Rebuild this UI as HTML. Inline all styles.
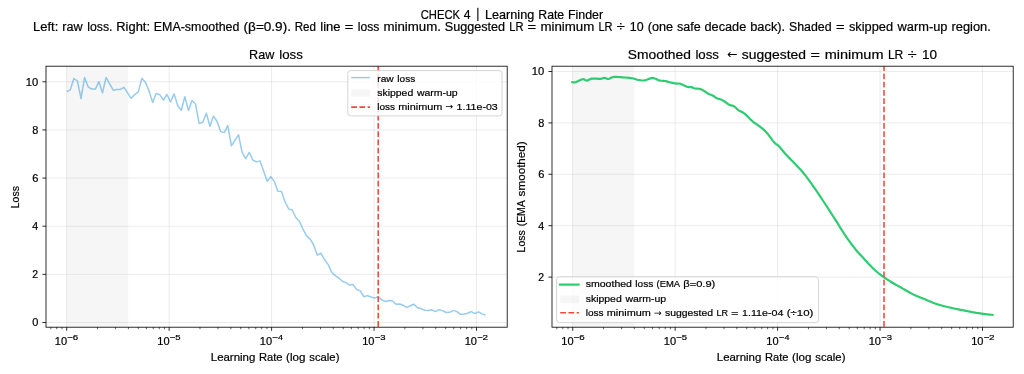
<!DOCTYPE html>
<html><head><meta charset="utf-8"><style>
html,body{margin:0;padding:0;background:#fff;}
svg{display:block;will-change:transform;}
text{font-family:"Liberation Sans",sans-serif;stroke:#000;stroke-width:0.2px;}
</style></head><body>
<svg width="1024" height="374" viewBox="0 0 1024 374">
<rect width="1024" height="374" fill="#fff"/>
<clipPath id="clip0"><rect x="46.0" y="66.2" width="461.20" height="261.00"/></clipPath>
<rect x="66.70" y="66.2" width="61.50" height="261.00" fill="#808080" fill-opacity="0.07"/>
<path d="M66.70 66.2V327.2 M169.15 66.2V327.2 M271.60 66.2V327.2 M374.05 66.2V327.2 M476.50 66.2V327.2 M46.0 322.50H507.2 M46.0 274.36H507.2 M46.0 226.22H507.2 M46.0 178.08H507.2 M46.0 129.94H507.2 M46.0 81.80H507.2" stroke="#b0b0b0" stroke-opacity="0.3" stroke-width="0.82" fill="none"/>
<polyline clip-path="url(#clip0)" points="66.70,91.70 70.28,89.90 73.86,78.50 77.44,81.00 81.02,98.50 84.60,77.40 88.18,87.00 91.76,89.10 95.34,89.10 98.92,81.70 102.50,92.90 106.08,77.40 109.66,84.00 113.24,90.20 116.82,89.40 120.40,89.40 123.98,87.30 127.56,92.80 131.14,98.30 134.72,94.50 138.30,91.90 141.88,78.20 145.46,82.40 149.04,91.00 152.62,102.40 156.20,93.50 159.78,94.70 163.36,100.10 166.94,94.50 170.52,102.00 174.10,93.90 177.68,105.50 181.26,110.20 184.84,96.80 188.42,110.40 192.00,100.60 195.58,104.30 199.16,123.60 202.74,122.20 206.32,113.20 209.90,126.20 213.48,116.10 217.06,121.50 220.64,131.60 224.22,132.60 227.80,125.60 231.38,145.80 234.96,140.10 238.54,134.80 242.12,152.40 245.70,158.70 249.28,152.30 252.86,160.10 256.44,161.90 260.02,160.90 263.60,171.00 267.18,181.30 270.76,176.60 274.34,181.60 277.92,191.20 281.50,191.50 285.08,202.00 288.66,208.90 292.24,210.00 295.82,217.50 299.40,221.20 302.98,229.20 306.56,235.90 310.14,239.10 313.72,245.00 317.30,255.20 320.88,253.20 324.46,259.50 328.04,264.40 331.62,271.90 335.20,275.70 338.78,278.00 342.36,281.20 345.94,282.60 349.52,285.10 353.10,284.60 356.68,289.60 360.26,290.80 363.84,296.70 367.42,295.60 371.00,297.00 374.58,298.10 378.16,296.70 381.74,299.90 385.32,301.50 388.90,300.50 392.48,301.00 396.06,304.20 399.64,304.00 403.22,305.30 406.80,307.40 410.38,305.80 413.96,304.20 417.54,307.70 421.12,308.60 424.70,310.20 428.28,310.60 431.86,309.80 435.44,311.60 439.02,309.60 442.60,310.60 446.18,312.50 449.76,312.30 453.34,310.40 456.92,311.60 460.50,314.30 464.08,313.90 467.66,313.30 471.24,311.60 474.82,313.60 478.40,311.90 481.98,313.90 485.56,315.10" fill="none" stroke="#3498db" stroke-opacity="0.5" stroke-width="1.5" stroke-linejoin="round"/>
<path d="M378.2 327.2V66.2" stroke="#e74c3c" stroke-width="1.55" stroke-dasharray="5.76 2.49" stroke-dashoffset="-0.5" fill="none"/>
<rect x="46.0" y="66.2" width="461.20" height="261.00" fill="none" stroke="#000" stroke-width="0.82"/>
<path d="M66.70 327.2v3.6 M169.15 327.2v3.6 M271.60 327.2v3.6 M374.05 327.2v3.6 M476.50 327.2v3.6 M46.0 322.50h-3.6 M46.0 274.36h-3.6 M46.0 226.22h-3.6 M46.0 178.08h-3.6 M46.0 129.94h-3.6 M46.0 81.80h-3.6" stroke="#000" stroke-width="0.82" fill="none"/>
<path d="M50.83 327.2v2.05 M56.77 327.2v2.05 M62.01 327.2v2.05 M97.54 327.2v2.05 M115.58 327.2v2.05 M128.38 327.2v2.05 M138.31 327.2v2.05 M146.42 327.2v2.05 M153.28 327.2v2.05 M159.22 327.2v2.05 M164.46 327.2v2.05 M199.99 327.2v2.05 M218.03 327.2v2.05 M230.83 327.2v2.05 M240.76 327.2v2.05 M248.87 327.2v2.05 M255.73 327.2v2.05 M261.67 327.2v2.05 M266.91 327.2v2.05 M302.44 327.2v2.05 M320.48 327.2v2.05 M333.28 327.2v2.05 M343.21 327.2v2.05 M351.32 327.2v2.05 M358.18 327.2v2.05 M364.12 327.2v2.05 M369.36 327.2v2.05 M404.89 327.2v2.05 M422.93 327.2v2.05 M435.73 327.2v2.05 M445.66 327.2v2.05 M453.77 327.2v2.05 M460.63 327.2v2.05 M466.57 327.2v2.05 M471.81 327.2v2.05" stroke="#000" stroke-width="0.62" fill="none"/>
<text x="32.27" y="326.40" font-size="10.71" textLength="6.11" lengthAdjust="spacingAndGlyphs">0</text>
<text x="32.17" y="278.26" font-size="10.71" textLength="5.80" lengthAdjust="spacingAndGlyphs">2</text>
<text x="32.20" y="230.12" font-size="10.71" textLength="5.93" lengthAdjust="spacingAndGlyphs">4</text>
<text x="32.26" y="181.98" font-size="10.71" textLength="6.18" lengthAdjust="spacingAndGlyphs">6</text>
<text x="32.22" y="133.84" font-size="10.71" textLength="6.07" lengthAdjust="spacingAndGlyphs">8</text>
<text x="25.72" y="85.70" font-size="10.71" textLength="12.41" lengthAdjust="spacingAndGlyphs">10</text>
<text x="54.86" y="344.70" font-size="10.71" textLength="12.27" lengthAdjust="spacingAndGlyphs">10</text>
<text x="67.62" y="340.30" font-size="8.03" textLength="5.65" lengthAdjust="spacingAndGlyphs">−</text>
<text x="72.80" y="340.30" font-size="8.03" textLength="5.42" lengthAdjust="spacingAndGlyphs">6</text>
<text x="157.31" y="344.70" font-size="10.71" textLength="12.27" lengthAdjust="spacingAndGlyphs">10</text>
<text x="170.07" y="340.30" font-size="8.03" textLength="5.65" lengthAdjust="spacingAndGlyphs">−</text>
<text x="175.37" y="340.30" font-size="8.03" textLength="5.28" lengthAdjust="spacingAndGlyphs">5</text>
<text x="259.76" y="344.70" font-size="10.71" textLength="12.27" lengthAdjust="spacingAndGlyphs">10</text>
<text x="272.52" y="340.30" font-size="8.03" textLength="5.65" lengthAdjust="spacingAndGlyphs">−</text>
<text x="278.00" y="340.30" font-size="8.03" textLength="4.97" lengthAdjust="spacingAndGlyphs">4</text>
<text x="362.21" y="344.70" font-size="10.71" textLength="12.27" lengthAdjust="spacingAndGlyphs">10</text>
<text x="374.97" y="340.30" font-size="8.03" textLength="5.65" lengthAdjust="spacingAndGlyphs">−</text>
<text x="380.29" y="340.30" font-size="8.03" textLength="5.28" lengthAdjust="spacingAndGlyphs">3</text>
<text x="464.66" y="344.70" font-size="10.71" textLength="12.27" lengthAdjust="spacingAndGlyphs">10</text>
<text x="477.42" y="340.30" font-size="8.03" textLength="5.65" lengthAdjust="spacingAndGlyphs">−</text>
<text x="482.60" y="340.30" font-size="8.03" textLength="5.49" lengthAdjust="spacingAndGlyphs">2</text>
<clipPath id="clip1"><rect x="552.0" y="66.2" width="461.20" height="261.00"/></clipPath>
<rect x="572.70" y="66.2" width="61.50" height="261.00" fill="#808080" fill-opacity="0.07"/>
<path d="M572.70 66.2V327.2 M675.15 66.2V327.2 M777.60 66.2V327.2 M880.05 66.2V327.2 M982.50 66.2V327.2 M552.0 277.10H1013.2 M552.0 225.70H1013.2 M552.0 174.30H1013.2 M552.0 122.90H1013.2 M552.0 71.50H1013.2" stroke="#b0b0b0" stroke-opacity="0.3" stroke-width="0.82" fill="none"/>
<polyline clip-path="url(#clip1)" points="572.40,82.20 572.81,82.23 573.37,82.29 574.05,82.33 574.77,82.32 575.50,82.20 576.25,81.95 577.05,81.58 577.88,81.16 578.70,80.75 579.50,80.40 580.26,80.08 581.00,79.75 581.73,79.46 582.46,79.26 583.20,79.20 583.95,79.36 584.70,79.73 585.46,80.15 586.23,80.48 587.00,80.60 587.79,80.42 588.60,80.03 589.41,79.56 590.22,79.11 591.00,78.80 591.72,78.65 592.40,78.59 593.08,78.57 593.82,78.59 594.70,78.60 595.77,78.63 596.99,78.70 598.27,78.78 599.51,78.82 600.60,78.80 601.52,78.66 602.35,78.42 603.11,78.17 603.84,77.97 604.60,77.90 605.37,78.04 606.12,78.34 606.88,78.67 607.63,78.93 608.40,79.00 609.16,78.80 609.91,78.41 610.68,77.94 611.49,77.50 612.40,77.20 613.33,77.04 614.26,76.95 615.29,76.92 616.50,76.94 618.00,77.00 619.98,77.11 622.37,77.30 624.89,77.51 627.23,77.72 629.10,77.90 630.40,78.03 631.31,78.13 632.01,78.22 632.65,78.34 633.40,78.50 634.22,78.73 635.01,79.00 635.81,79.30 636.69,79.57 637.70,79.80 638.86,80.01 640.13,80.23 641.48,80.41 642.89,80.48 644.30,80.40 645.80,80.06 647.42,79.50 649.03,78.87 650.53,78.32 651.80,78.00 652.78,77.94 653.55,78.05 654.20,78.27 654.81,78.54 655.50,78.80 656.21,79.08 656.89,79.42 657.59,79.78 658.37,80.12 659.30,80.40 660.45,80.61 661.77,80.76 663.17,80.90 664.51,81.03 665.70,81.20 666.66,81.40 667.47,81.61 668.23,81.83 669.04,82.06 670.00,82.30 671.19,82.57 672.54,82.86 673.93,83.16 675.26,83.41 676.40,83.60 677.26,83.65 677.92,83.58 678.51,83.50 679.19,83.51 680.10,83.70 681.33,84.17 682.80,84.86 684.34,85.62 685.83,86.31 687.10,86.80 688.13,87.02 689.00,87.07 689.78,87.04 690.53,87.01 691.30,87.10 692.05,87.32 692.75,87.61 693.45,87.93 694.21,88.24 695.10,88.50 696.12,88.64 697.24,88.69 698.43,88.75 699.69,88.92 701.00,89.30 702.43,89.99 704.00,90.93 705.59,91.95 707.09,92.93 708.40,93.70 709.47,94.22 710.37,94.57 711.17,94.85 711.93,95.14 712.70,95.50 713.44,95.96 714.09,96.45 714.75,96.97 715.50,97.50 716.40,98.00 717.51,98.46 718.77,98.88 720.11,99.31 721.48,99.80 722.80,100.40 724.11,101.18 725.44,102.11 726.76,103.08 728.02,103.98 729.20,104.70 730.26,105.15 731.24,105.41 732.16,105.61 733.07,105.86 734.00,106.30 734.95,106.97 735.88,107.80 736.82,108.70 737.78,109.60 738.80,110.40 739.85,111.03 740.90,111.53 742.01,112.04 743.20,112.69 744.50,113.60 745.99,114.91 747.65,116.53 749.36,118.27 751.02,119.92 752.50,121.30 753.74,122.29 754.80,123.04 755.80,123.68 756.86,124.39 758.10,125.30 759.55,126.41 761.13,127.61 762.78,128.93 764.46,130.39 766.10,132.00 767.75,133.93 769.45,136.17 771.13,138.47 772.70,140.59 774.10,142.30 775.23,143.42 776.14,144.10 776.97,144.62 777.84,145.23 778.90,146.20 780.14,147.58 781.48,149.20 782.91,150.97 784.42,152.80 786.00,154.60 787.66,156.35 789.41,158.12 791.22,159.92 793.09,161.81 795.00,163.80 796.96,165.90 799.00,168.08 801.07,170.35 803.15,172.72 805.20,175.20 807.22,177.81 809.24,180.55 811.26,183.38 813.28,186.28 815.30,189.20 817.31,192.14 819.32,195.11 821.33,198.14 823.38,201.27 825.50,204.50 827.74,207.95 830.09,211.58 832.46,215.27 834.76,218.86 836.90,222.20 838.82,225.24 840.58,228.08 842.27,230.79 843.98,233.47 845.80,236.20 847.82,239.09 849.99,242.08 852.16,245.01 854.21,247.70 856.00,250.00 857.45,251.76 858.64,253.10 859.72,254.22 860.79,255.32 862.00,256.60 863.37,258.10 864.82,259.69 866.30,261.31 867.77,262.90 869.20,264.40 870.55,265.80 871.86,267.15 873.16,268.45 874.50,269.73 875.90,271.00 877.38,272.26 878.91,273.51 880.48,274.73 882.08,275.93 883.70,277.10 885.34,278.23 887.02,279.34 888.71,280.42 890.41,281.47 892.10,282.50 893.76,283.49 895.41,284.43 897.06,285.37 898.75,286.31 900.50,287.30 902.40,288.39 904.43,289.55 906.46,290.71 908.36,291.79 910.00,292.70 911.23,293.38 912.16,293.88 912.97,294.31 913.88,294.75 915.10,295.30 916.67,295.97 918.45,296.70 920.38,297.48 922.38,298.28 924.40,299.10 926.47,299.97 928.64,300.90 930.85,301.83 933.02,302.72 935.10,303.50 937.04,304.15 938.89,304.71 940.71,305.22 942.56,305.70 944.50,306.20 946.56,306.72 948.69,307.23 950.86,307.74 953.04,308.23 955.20,308.70 957.36,309.15 959.54,309.58 961.71,309.99 963.84,310.40 965.90,310.80 967.89,311.21 969.82,311.61 971.70,312.01 973.53,312.37 975.30,312.70 976.97,312.97 978.54,313.20 980.07,313.40 981.64,313.59 983.30,313.80 985.23,314.04 987.37,314.29 989.49,314.54 991.31,314.75 992.60,314.90" fill="none" stroke="#2ecc71" stroke-width="2.2" stroke-linejoin="round" stroke-linecap="square"/>
<path d="M884.0 327.2V66.2" stroke="#e74c3c" stroke-width="1.55" stroke-dasharray="5.76 2.49" stroke-dashoffset="-0.5" fill="none"/>
<rect x="552.0" y="66.2" width="461.20" height="261.00" fill="none" stroke="#000" stroke-width="0.82"/>
<path d="M572.70 327.2v3.6 M675.15 327.2v3.6 M777.60 327.2v3.6 M880.05 327.2v3.6 M982.50 327.2v3.6 M552.0 277.10h-3.6 M552.0 225.70h-3.6 M552.0 174.30h-3.6 M552.0 122.90h-3.6 M552.0 71.50h-3.6" stroke="#000" stroke-width="0.82" fill="none"/>
<path d="M556.83 327.2v2.05 M562.77 327.2v2.05 M568.01 327.2v2.05 M603.54 327.2v2.05 M621.58 327.2v2.05 M634.38 327.2v2.05 M644.31 327.2v2.05 M652.42 327.2v2.05 M659.28 327.2v2.05 M665.22 327.2v2.05 M670.46 327.2v2.05 M705.99 327.2v2.05 M724.03 327.2v2.05 M736.83 327.2v2.05 M746.76 327.2v2.05 M754.87 327.2v2.05 M761.73 327.2v2.05 M767.67 327.2v2.05 M772.91 327.2v2.05 M808.44 327.2v2.05 M826.48 327.2v2.05 M839.28 327.2v2.05 M849.21 327.2v2.05 M857.32 327.2v2.05 M864.18 327.2v2.05 M870.12 327.2v2.05 M875.36 327.2v2.05 M910.89 327.2v2.05 M928.93 327.2v2.05 M941.73 327.2v2.05 M951.66 327.2v2.05 M959.77 327.2v2.05 M966.63 327.2v2.05 M972.57 327.2v2.05 M977.81 327.2v2.05" stroke="#000" stroke-width="0.62" fill="none"/>
<text x="538.17" y="281.00" font-size="10.71" textLength="5.80" lengthAdjust="spacingAndGlyphs">2</text>
<text x="538.20" y="229.60" font-size="10.71" textLength="5.93" lengthAdjust="spacingAndGlyphs">4</text>
<text x="538.26" y="178.20" font-size="10.71" textLength="6.18" lengthAdjust="spacingAndGlyphs">6</text>
<text x="538.22" y="126.80" font-size="10.71" textLength="6.07" lengthAdjust="spacingAndGlyphs">8</text>
<text x="531.72" y="75.40" font-size="10.71" textLength="12.41" lengthAdjust="spacingAndGlyphs">10</text>
<text x="561.36" y="344.70" font-size="10.71" textLength="12.27" lengthAdjust="spacingAndGlyphs">10</text>
<text x="574.12" y="340.30" font-size="8.03" textLength="5.65" lengthAdjust="spacingAndGlyphs">−</text>
<text x="579.30" y="340.30" font-size="8.03" textLength="5.42" lengthAdjust="spacingAndGlyphs">6</text>
<text x="663.81" y="344.70" font-size="10.71" textLength="12.27" lengthAdjust="spacingAndGlyphs">10</text>
<text x="676.57" y="340.30" font-size="8.03" textLength="5.65" lengthAdjust="spacingAndGlyphs">−</text>
<text x="681.87" y="340.30" font-size="8.03" textLength="5.28" lengthAdjust="spacingAndGlyphs">5</text>
<text x="766.26" y="344.70" font-size="10.71" textLength="12.27" lengthAdjust="spacingAndGlyphs">10</text>
<text x="779.02" y="340.30" font-size="8.03" textLength="5.65" lengthAdjust="spacingAndGlyphs">−</text>
<text x="784.50" y="340.30" font-size="8.03" textLength="4.97" lengthAdjust="spacingAndGlyphs">4</text>
<text x="868.71" y="344.70" font-size="10.71" textLength="12.27" lengthAdjust="spacingAndGlyphs">10</text>
<text x="881.47" y="340.30" font-size="8.03" textLength="5.65" lengthAdjust="spacingAndGlyphs">−</text>
<text x="886.79" y="340.30" font-size="8.03" textLength="5.28" lengthAdjust="spacingAndGlyphs">3</text>
<text x="971.16" y="344.70" font-size="10.71" textLength="12.27" lengthAdjust="spacingAndGlyphs">10</text>
<text x="983.92" y="340.30" font-size="8.03" textLength="5.65" lengthAdjust="spacingAndGlyphs">−</text>
<text x="989.10" y="340.30" font-size="8.03" textLength="5.49" lengthAdjust="spacingAndGlyphs">2</text>
<text x="420.75" y="18.80" font-size="11.97" textLength="39.32" lengthAdjust="spacingAndGlyphs">CHECK</text>
<text x="463.77" y="18.80" font-size="11.97" textLength="6.76" lengthAdjust="spacingAndGlyphs">4</text>
<rect x="477.31" y="7.8" width="1.1" height="13.30" fill="#000"/>
<text x="485.01" y="18.80" font-size="11.97" textLength="49.23" lengthAdjust="spacingAndGlyphs">Learning</text>
<text x="538.29" y="18.80" font-size="11.97" textLength="25.93" lengthAdjust="spacingAndGlyphs">Rate</text>
<text x="567.91" y="18.80" font-size="11.97" textLength="35.23" lengthAdjust="spacingAndGlyphs">Finder</text>
<text x="33.14" y="31.30" font-size="12.01" textLength="25.11" lengthAdjust="spacingAndGlyphs">Left:</text>
<text x="62.36" y="31.30" font-size="12.01" textLength="20.31" lengthAdjust="spacingAndGlyphs">raw</text>
<text x="87.25" y="31.30" font-size="12.01" textLength="25.19" lengthAdjust="spacingAndGlyphs">loss.</text>
<text x="116.27" y="31.30" font-size="12.01" textLength="33.74" lengthAdjust="spacingAndGlyphs">Right:</text>
<text x="153.81" y="31.30" font-size="12.01" textLength="85.57" lengthAdjust="spacingAndGlyphs">EMA-smoothed</text>
<text x="243.61" y="31.30" font-size="12.01" textLength="47.33" lengthAdjust="spacingAndGlyphs">(β=0.9).</text>
<text x="294.75" y="31.30" font-size="12.01" textLength="21.19" lengthAdjust="spacingAndGlyphs">Red</text>
<text x="320.33" y="31.30" font-size="12.01" textLength="20.20" lengthAdjust="spacingAndGlyphs">line</text>
<text x="344.73" y="31.30" font-size="12.01" textLength="8.56" lengthAdjust="spacingAndGlyphs">=</text>
<text x="357.89" y="31.30" font-size="12.01" textLength="21.50" lengthAdjust="spacingAndGlyphs">loss</text>
<text x="383.44" y="31.30" font-size="12.01" textLength="57.60" lengthAdjust="spacingAndGlyphs">minimum.</text>
<text x="444.75" y="31.30" font-size="12.01" textLength="60.39" lengthAdjust="spacingAndGlyphs">Suggested</text>
<text x="509.29" y="31.30" font-size="12.01" textLength="14.17" lengthAdjust="spacingAndGlyphs">LR</text>
<text x="527.48" y="31.30" font-size="12.01" textLength="8.56" lengthAdjust="spacingAndGlyphs">=</text>
<text x="540.44" y="31.30" font-size="12.01" textLength="53.88" lengthAdjust="spacingAndGlyphs">minimum</text>
<text x="598.42" y="31.30" font-size="12.01" textLength="14.17" lengthAdjust="spacingAndGlyphs">LR</text>
<text x="616.86" y="31.30" font-size="12.01" textLength="8.05" lengthAdjust="spacingAndGlyphs">÷</text>
<text x="629.75" y="31.30" font-size="12.01" textLength="13.81" lengthAdjust="spacingAndGlyphs">10</text>
<text x="647.79" y="31.30" font-size="12.01" textLength="25.35" lengthAdjust="spacingAndGlyphs">(one</text>
<text x="677.10" y="31.30" font-size="12.01" textLength="23.65" lengthAdjust="spacingAndGlyphs">safe</text>
<text x="704.54" y="31.30" font-size="12.01" textLength="41.72" lengthAdjust="spacingAndGlyphs">decade</text>
<text x="750.25" y="31.30" font-size="12.01" textLength="34.87" lengthAdjust="spacingAndGlyphs">back).</text>
<text x="789.01" y="31.30" font-size="12.01" textLength="42.61" lengthAdjust="spacingAndGlyphs">Shaded</text>
<text x="835.98" y="31.30" font-size="12.01" textLength="8.56" lengthAdjust="spacingAndGlyphs">=</text>
<text x="848.97" y="31.30" font-size="12.01" textLength="44.05" lengthAdjust="spacingAndGlyphs">skipped</text>
<text x="897.59" y="31.30" font-size="12.01" textLength="49.89" lengthAdjust="spacingAndGlyphs">warm-up</text>
<text x="951.47" y="31.30" font-size="12.01" textLength="39.41" lengthAdjust="spacingAndGlyphs">region.</text>
<text x="249.06" y="58.50" font-size="13.45" textLength="25.25" lengthAdjust="spacingAndGlyphs">Raw</text>
<text x="279.23" y="58.50" font-size="13.45" textLength="23.63" lengthAdjust="spacingAndGlyphs">loss</text>
<text x="627.85" y="58.50" font-size="13.45" textLength="63.02" lengthAdjust="spacingAndGlyphs">Smoothed</text>
<text x="695.38" y="58.50" font-size="13.45" textLength="23.63" lengthAdjust="spacingAndGlyphs">loss</text>
<path d="M727.65 54.87 L727.65 54.32 L730.04 51.93 L730.77 52.66 L729.35 54.08 L736.77 54.08 L736.77 55.11 L729.35 55.11 L730.77 56.53 L730.04 57.26Z" fill="#000"/>
<text x="741.89" y="58.50" font-size="13.45" textLength="64.16" lengthAdjust="spacingAndGlyphs">suggested</text>
<text x="810.61" y="58.50" font-size="13.45" textLength="9.47" lengthAdjust="spacingAndGlyphs">=</text>
<text x="824.69" y="58.50" font-size="13.45" textLength="58.79" lengthAdjust="spacingAndGlyphs">minimum</text>
<text x="887.91" y="58.50" font-size="13.45" textLength="15.42" lengthAdjust="spacingAndGlyphs">LR</text>
<text x="907.89" y="58.50" font-size="13.45" textLength="8.90" lengthAdjust="spacingAndGlyphs">÷</text>
<text x="921.99" y="58.50" font-size="13.45" textLength="15.06" lengthAdjust="spacingAndGlyphs">10</text>
<text x="210.78" y="361.00" font-size="10.87" textLength="44.55" lengthAdjust="spacingAndGlyphs">Learning</text>
<text x="259.04" y="361.00" font-size="10.87" textLength="23.53" lengthAdjust="spacingAndGlyphs">Rate</text>
<text x="286.11" y="361.00" font-size="10.87" textLength="19.34" lengthAdjust="spacingAndGlyphs">(log</text>
<text x="309.26" y="361.00" font-size="10.87" textLength="30.14" lengthAdjust="spacingAndGlyphs">scale)</text>
<text x="716.78" y="361.00" font-size="10.87" textLength="44.55" lengthAdjust="spacingAndGlyphs">Learning</text>
<text x="765.04" y="361.00" font-size="10.87" textLength="23.53" lengthAdjust="spacingAndGlyphs">Rate</text>
<text x="792.11" y="361.00" font-size="10.87" textLength="19.34" lengthAdjust="spacingAndGlyphs">(log</text>
<text x="815.26" y="361.00" font-size="10.87" textLength="30.14" lengthAdjust="spacingAndGlyphs">scale)</text>
<text transform="translate(18.50,0) rotate(-90)" x="-208.26" y="0" font-size="10.87" textLength="22.24" lengthAdjust="spacingAndGlyphs">Loss</text>
<text transform="translate(524.80,0) rotate(-90)" x="-252.45" y="0" font-size="10.87" textLength="22.24" lengthAdjust="spacingAndGlyphs">Loss</text>
<text transform="translate(524.80,0) rotate(-90)" x="-226.37" y="0" font-size="10.87" textLength="26.17" lengthAdjust="spacingAndGlyphs">(EMA</text>
<text transform="translate(524.80,0) rotate(-90)" x="-196.43" y="0" font-size="10.87" textLength="55.17" lengthAdjust="spacingAndGlyphs">smoothed)</text>
<rect x="347.8" y="70.6" width="154.20" height="45.30" rx="2.6" fill="#fff" fill-opacity="0.8" stroke="#cccccc" stroke-width="0.82"/>
<path d="M351.2 77.60H369.90" stroke="#3498db" stroke-opacity="0.5" stroke-width="1.5"/>
<rect x="351.2" y="89.30" width="18.7" height="7.5" fill="#808080" fill-opacity="0.07"/>
<path d="M351.2 107.10H369.90" stroke="#e74c3c" stroke-width="1.55" stroke-dasharray="5.74 2.48"/>
<text x="377.32" y="81.60" font-size="9.82" textLength="16.40" lengthAdjust="spacingAndGlyphs">raw</text>
<text x="397.35" y="81.60" font-size="9.82" textLength="17.79" lengthAdjust="spacingAndGlyphs">loss</text>
<text x="377.24" y="95.90" font-size="9.82" textLength="35.96" lengthAdjust="spacingAndGlyphs">skipped</text>
<text x="416.92" y="95.90" font-size="9.82" textLength="40.80" lengthAdjust="spacingAndGlyphs">warm-up</text>
<text x="377.23" y="109.60" font-size="9.82" textLength="17.79" lengthAdjust="spacingAndGlyphs">loss</text>
<text x="398.30" y="109.60" font-size="9.82" textLength="44.06" lengthAdjust="spacingAndGlyphs">minimum</text>
<path d="M452.77 106.46 L452.77 106.87 L450.97 108.67 L450.42 108.12 L451.49 107.06 L445.90 107.06 L445.90 106.28 L451.49 106.28 L450.42 105.22 L450.97 104.67Z" fill="#000"/>
<text x="456.61" y="109.60" font-size="9.82" textLength="41.13" lengthAdjust="spacingAndGlyphs">1.11e-03</text>
<rect x="556.6" y="276.8" width="261.90" height="45.80" rx="2.6" fill="#fff" fill-opacity="0.8" stroke="#cccccc" stroke-width="0.82"/>
<path d="M560.0 284.60H578.50" stroke="#2ecc71" stroke-width="2.2" stroke-linecap="square"/>
<rect x="560.2" y="295.60" width="18.7" height="7.5" fill="#808080" fill-opacity="0.07"/>
<path d="M560.2 312.80H578.90" stroke="#e74c3c" stroke-width="1.55" stroke-dasharray="5.74 2.48"/>
<text x="585.74" y="287.10" font-size="9.82" textLength="46.22" lengthAdjust="spacingAndGlyphs">smoothed</text>
<text x="635.35" y="287.10" font-size="9.82" textLength="17.79" lengthAdjust="spacingAndGlyphs">loss</text>
<text x="656.56" y="287.10" font-size="9.82" textLength="23.60" lengthAdjust="spacingAndGlyphs">(EMA</text>
<text x="683.25" y="287.10" font-size="9.82" textLength="32.09" lengthAdjust="spacingAndGlyphs">β=0.9)</text>
<text x="585.74" y="302.20" font-size="9.82" textLength="35.96" lengthAdjust="spacingAndGlyphs">skipped</text>
<text x="625.42" y="302.20" font-size="9.82" textLength="40.80" lengthAdjust="spacingAndGlyphs">warm-up</text>
<text x="585.73" y="316.10" font-size="9.82" textLength="17.79" lengthAdjust="spacingAndGlyphs">loss</text>
<text x="606.80" y="316.10" font-size="9.82" textLength="44.06" lengthAdjust="spacingAndGlyphs">minimum</text>
<path d="M661.27 312.96 L661.27 313.37 L659.47 315.17 L658.92 314.62 L659.99 313.56 L654.40 313.56 L654.40 312.78 L659.99 312.78 L658.92 311.72 L659.47 311.17Z" fill="#000"/>
<text x="664.98" y="316.10" font-size="9.82" textLength="48.09" lengthAdjust="spacingAndGlyphs">suggested</text>
<text x="716.53" y="316.10" font-size="9.82" textLength="11.53" lengthAdjust="spacingAndGlyphs">LR</text>
<text x="731.31" y="316.10" font-size="9.82" textLength="7.06" lengthAdjust="spacingAndGlyphs">=</text>
<text x="742.10" y="316.10" font-size="9.82" textLength="41.23" lengthAdjust="spacingAndGlyphs">1.11e-04</text>
<text x="786.69" y="316.10" font-size="9.82" textLength="26.67" lengthAdjust="spacingAndGlyphs">(÷10)</text>
</svg></body></html>
